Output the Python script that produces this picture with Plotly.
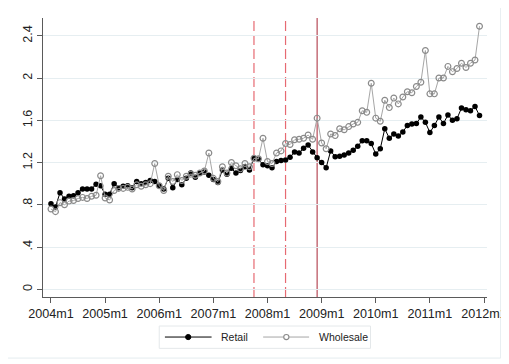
import plotly.graph_objects as go

# ---- data (monthly, 2004m1 .. 2011m12) ----
years = list(range(2004, 2012))
month_labels = [f"{y}m{m}" for y in years for m in range(1, 13)]
month_index = list(range(len(month_labels)))

retail = [
    0.81, 0.78, 0.915, 0.855, 0.88, 0.885, 0.915, 0.95, 0.95, 0.95, 0.995, 0.98,
    0.90, 0.90, 1.00, 0.96, 0.975, 0.98, 0.96, 1.02, 1.00, 1.01, 1.03, 1.02,
    0.98, 0.95, 1.05, 0.96, 1.04, 0.99, 1.05, 1.10, 1.06, 1.10, 1.11, 1.08,
    1.04, 1.01, 1.13, 1.09, 1.145, 1.10, 1.125, 1.16, 1.13, 1.24, 1.23, 1.18,
    1.17, 1.15, 1.21, 1.22, 1.225, 1.25, 1.30, 1.29, 1.335, 1.365, 1.30, 1.245,
    1.20, 1.15, 1.31, 1.255, 1.26, 1.27, 1.29, 1.315, 1.355, 1.405, 1.405, 1.38,
    1.28, 1.33, 1.52, 1.43, 1.47, 1.45, 1.49, 1.55, 1.565, 1.57, 1.63, 1.58,
    1.485, 1.55, 1.63, 1.57, 1.65, 1.60, 1.615, 1.715, 1.70, 1.69, 1.73, 1.645,
]
wholesale = [
    0.76, 0.735, 0.82, 0.80, 0.835, 0.84, 0.86, 0.87, 0.86, 0.88, 0.89, 1.075,
    0.865, 0.845, 0.935, 0.955, 0.955, 0.965, 0.95, 0.99, 0.975, 0.99, 1.00, 1.19,
    0.98, 0.935, 1.07, 1.02, 1.085, 1.03, 1.07, 1.09, 1.08, 1.10, 1.12, 1.29,
    1.05, 1.02, 1.16, 1.10, 1.20, 1.17, 1.14, 1.19, 1.16, 1.24, 1.235, 1.43,
    1.21, 1.19, 1.29, 1.31, 1.38, 1.37, 1.415, 1.42, 1.43, 1.46, 1.42, 1.62,
    1.385, 1.33, 1.47, 1.455, 1.52, 1.51, 1.54, 1.565, 1.58, 1.69, 1.675, 1.95,
    1.62, 1.59, 1.79, 1.72, 1.81, 1.755, 1.82, 1.87, 1.86, 1.92, 1.96, 2.26,
    1.85, 1.85, 2.00, 2.00, 2.11, 2.06, 2.09, 2.14, 2.10, 2.14, 2.17, 2.49,
]

xtick_vals = [12 * k for k in range(9)]
xtick_text = [f"{y}m1" for y in range(2004, 2013)]
ytick_vals = [0, 0.4, 0.8, 1.2, 1.6, 2.0, 2.4]
ytick_text = ["0", ".4", ".8", "1.2", "1.6", "2", "2.4"]

# event lines (month index): 2007m10, 2008m5 dashed; 2008m12 solid
dashed_events = [45, 52]
solid_events = [59]

FONT = "Arial, Liberation Sans, sans-serif"
OFF = 8  # page body margin offset
W, H = 509 - OFF, 364 - OFF
L, R, T, B = 43, 487.3, 18.3, 297.0   # plot area in page pixels

def px(x):
    return (x - L) / (R - L)

def py(y):
    return (B - y) / (B - T)

fig = go.Figure()
fig.add_trace(go.Scatter(
    x=month_index, y=retail, mode="lines+markers", name="Retail",
    line=dict(color="#000000", width=1),
    marker=dict(color="#000000", size=5.5, symbol="circle"),
    showlegend=False,
))
fig.add_trace(go.Scatter(
    x=month_index, y=wholesale, mode="lines+markers", name="Wholesale",
    line=dict(color="#a6a6a6", width=1),
    marker=dict(color="#8a8a8a", size=5.8, symbol="circle-open", line=dict(width=1.2)),
    showlegend=False,
))

shapes = []
for e in dashed_events:
    shapes.append(dict(type="line", xref="x", yref="paper", x0=e, x1=e, y0=0, y1=1,
                       line=dict(color="#e66a72", width=1.2, dash="10px,4px"), layer="below"))
for e in solid_events:
    shapes.append(dict(type="line", xref="x", yref="paper", x0=e, x1=e, y0=0, y1=1,
                       line=dict(color="#b03a48", width=1.1), layer="below"))

# outer graph-region frame
shapes.append(dict(type="rect", xref="paper", yref="paper",
                   x0=px(6.7), x1=px(501), y0=py(358), y1=py(5),
                   line=dict(color="#e4ecef", width=1), fillcolor="rgba(0,0,0,0)", layer="below"))

# legend (drawn)
shapes.append(dict(type="rect", xref="paper", yref="paper",
                   x0=px(159.3), x1=px(370.7), y0=py(348.3), y1=py(326),
                   line=dict(color="#e4e8ea", width=1), fillcolor="white"))
ly = 337
shapes.append(dict(type="line", xref="paper", yref="paper", x0=px(165), x1=px(211.7),
                   y0=py(ly), y1=py(ly), line=dict(color="#000000", width=1)))
shapes.append(dict(type="line", xref="paper", yref="paper", x0=px(263.3), x1=px(309.3),
                   y0=py(ly), y1=py(ly), line=dict(color="#a6a6a6", width=1)))
r = 2.6
shapes.append(dict(type="circle", xref="paper", yref="paper",
                   x0=px(188.3 - r), x1=px(188.3 + r), y0=py(ly + r), y1=py(ly - r),
                   line=dict(color="#000000", width=1), fillcolor="#000000"))
shapes.append(dict(type="circle", xref="paper", yref="paper",
                   x0=px(286.5 - r), x1=px(286.5 + r), y0=py(ly + r), y1=py(ly - r),
                   line=dict(color="#8a8a8a", width=1.1), fillcolor="white"))

annotations = [
    dict(text="Retail", xref="paper", yref="paper", x=px(219.3), y=py(ly),
         xanchor="left", yanchor="middle", showarrow=False,
         font=dict(family=FONT, size=10.5, color="#222222")),
    dict(text="Wholesale", xref="paper", yref="paper", x=px(316.7), y=py(ly),
         xanchor="left", yanchor="middle", showarrow=False,
         font=dict(family=FONT, size=10.5, color="#222222")),
]

fig.update_layout(
    width=W, height=H,
    margin=dict(l=L - OFF, r=W - (R - OFF), t=T - OFF, b=H - (B - OFF), pad=0, autoexpand=False),
    paper_bgcolor="white", plot_bgcolor="white",
    font=dict(family=FONT, size=12.6, color="#222222"),
    shapes=shapes, annotations=annotations,
    showlegend=False,
)
fig.update_xaxes(
    range=[-1.77, 96.66], tickmode="array", tickvals=xtick_vals, ticktext=xtick_text,
    showgrid=False, zeroline=False, showline=True, linecolor="#5a5a5a", linewidth=1,
    ticks="outside", ticklen=5, tickcolor="#5a5a5a", tickwidth=1, automargin=False,
    tickfont=dict(family=FONT, size=12.6, color="#222222"),
)
fig.update_yaxes(
    range=[-0.073, 2.568], tickmode="array", tickvals=ytick_vals, ticktext=ytick_text,
    showgrid=True, gridcolor="#e6eef1", gridwidth=1.2, zeroline=False,
    showline=True, linecolor="#5a5a5a", linewidth=1, automargin=False,
    ticks="outside", ticklen=5, tickcolor="#5a5a5a", tickwidth=1, tickangle=-90,
    tickfont=dict(family=FONT, size=12.6, color="#222222"),
)

fig.write_html("out.html")
